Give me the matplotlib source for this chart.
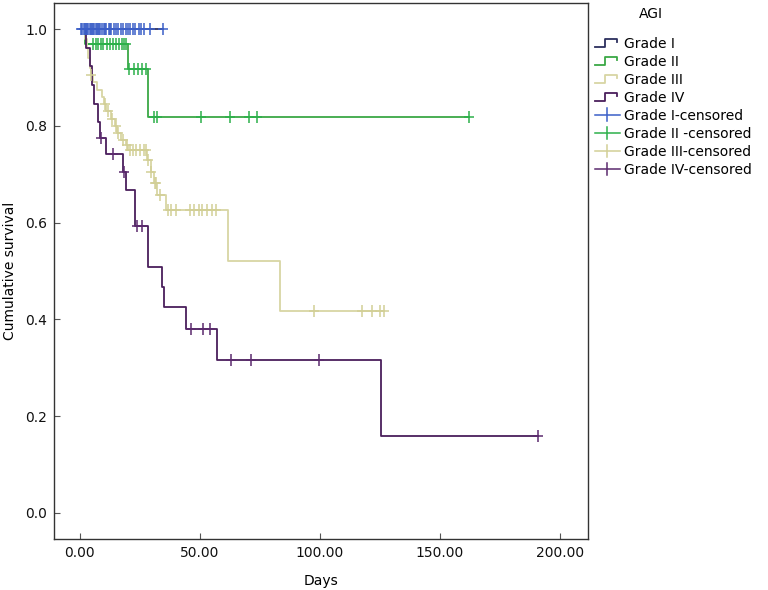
import numpy as np
import matplotlib
matplotlib.use("Agg")
import matplotlib.pyplot as plt
from matplotlib.lines import Line2D
from matplotlib.legend_handler import HandlerBase

# ---------------- data ----------------
groups = ["Grade I", "Grade II", "Grade III", "Grade IV"]

g1_event_t = []
g1_event_s = []
g1_cens_t = [0.5, 1, 1.5, 2, 2.5, 3, 3.5, 4, 4.5, 5, 5.5, 6, 6.5, 7, 7.5, 8, 8.5, 9, 10,
             10.5, 11, 12, 12.5, 13, 14, 15, 16, 17, 18, 19, 20, 21, 22, 23, 24.5,
             25.5, 26.5, 29, 34.6]

g2_event_t = [2, 20, 28.5]
g2_event_s = [0.970, 0.917, 0.819]
g2_cens_t = [5.5, 6.7, 7.6, 8.6, 9.7, 11.1, 12.5, 13.9, 15, 16.4, 17.4, 18.3, 19.4,
             20.5, 22.5, 24, 26, 27.5,
             31, 32, 50.3, 62.5, 70.3, 73.8, 162]

g3_event_t = [2, 3, 3.5, 4, 4.5, 5.5, 7, 9, 10, 11, 13, 14.5, 15.5, 17, 19, 20,
              28, 29.5, 31, 32, 36, 61.5, 83.3]
g3_event_s = [0.980, 0.960, 0.940, 0.920, 0.905, 0.890, 0.875, 0.860, 0.845, 0.830,
              0.815, 0.800, 0.785, 0.770, 0.760, 0.751, 0.729, 0.705, 0.681, 0.657,
              0.626, 0.521, 0.417]
g3_cens_t = [4.8, 10.5, 11.5, 13.5, 15, 16, 18, 19.5, 21, 22.3, 23.5, 25, 26.5, 27.5,
             28.5, 29.8, 31.2, 31.8, 33.5,
             36.5, 38, 40, 46, 47.5, 49.5, 51, 53, 55, 56.5,
             97.5, 117.6, 121.8, 125, 126.5]

g4_event_t = [2.5, 4, 5, 6, 7.5, 8.5, 11, 18, 19, 23, 28.5, 34.4, 35, 44.4, 57.2, 125.4]
g4_event_s = [0.962, 0.923, 0.885, 0.846, 0.808, 0.774, 0.741, 0.705, 0.667, 0.593,
              0.509, 0.467, 0.425, 0.381, 0.317, 0.159]
g4_cens_t = [8.75, 13.9, 18.3, 23.6, 26, 46.3, 51.4, 54.4, 62.8, 71.3, 99.6, 190.7]

x_ticks = [0, 50, 100, 150, 200]
y_ticks = [0.0, 0.2, 0.4, 0.6, 0.8, 1.0]

line_colors = ["#2c2f5e", "#3aa845", "#d8d5a4", "#4a1f5c"]
cens_colors = ["#3b5fc8", "#2cb04a", "#d2cf96", "#5b2a6e"]
cens_labels = ["Grade I-censored", "Grade II -censored", "Grade III-censored",
               "Grade IV-censored"]

data = [
    (g1_event_t, g1_event_s, g1_cens_t),
    (g2_event_t, g2_event_s, g2_cens_t),
    (g3_event_t, g3_event_s, g3_cens_t),
    (g4_event_t, g4_event_s, g4_cens_t),
]

plt.rcParams['font.family'] = ['DejaVu Sans']
fig = plt.figure(figsize=(7.68, 5.90), dpi=100)
ax = fig.add_axes([54 / 768, 1 - 539 / 590, (588 - 54) / 768, (539 - 3) / 590])


def surv_at(t, et, es):
    s = 1.0
    for tt, ss in zip(et, es):
        if tt <= t:
            s = ss
    return s


order = [2, 3, 1, 0]
for i in order:
    et, es, ct = data[i]
    end = max(list(et) + list(ct))
    xs = [0] + list(et) + [end]
    ys = [1.0] + list(es) + [es[-1] if es else 1.0]
    ax.step(xs, ys, where="post", color=line_colors[i], lw=1.3, zorder=2 + i * 0.1)
for i in order:
    et, es, ct = data[i]
    cy = [surv_at(t, et, es) for t in ct]
    ax.plot(ct, cy, linestyle="none", marker="|", ms=9, mew=1.1,
            color=cens_colors[i], zorder=3 + i * 0.1)
    ax.plot(ct, cy, linestyle="none", marker="_", ms=7, mew=1.1,
            color=cens_colors[i], zorder=3 + i * 0.1)

ax.set_xlim(-10.8, 211.7)
ax.set_ylim(-0.054, 1.054)
ax.set_xticks(x_ticks)
ax.set_xticklabels([f"{v:.2f}" for v in x_ticks])
ax.set_yticks(y_ticks)
ax.set_yticklabels([f"{v:.1f}" for v in y_ticks])
ax.tick_params(direction="in", length=4, width=0.8, colors="#555555",
               labelcolor="#111111", labelsize=10, pad=5)
for sp in ax.spines.values():
    sp.set_color("#333333")
    sp.set_linewidth(1.0)
ax.set_xlabel("Days", fontsize=10, labelpad=10)
ax.set_ylabel("Cumulative survival", fontsize=10, labelpad=6)


class StepHandler(HandlerBase):
    def create_artists(self, legend, orig, xd, yd, w, h, fs, trans):
        c = orig.get_color()
        x = np.array([0, 0.42, 0.42, 0.9, 0.9]) * w - xd
        y = np.array([0.05, 0.05, 0.85, 0.85, 0.55]) * h - yd
        ln = Line2D(x, y, color=c, lw=1.3, transform=trans)
        return [ln]


class CensHandler(HandlerBase):
    def create_artists(self, legend, orig, xd, yd, w, h, fs, trans):
        c = orig.get_color()
        ln = Line2D([-xd, w - xd], [h / 2 - yd, h / 2 - yd], color=c, lw=1.1,
                    transform=trans)
        v = Line2D([w / 2 - xd, w / 2 - xd], [-0.15 * h - yd, 1.15 * h - yd], color=c,
                   lw=1.1, transform=trans)
        return [ln, v]


step_h = [Line2D([], [], color=c) for c in line_colors]
cens_h = [Line2D([], [], color=c, marker="+") for c in cens_colors]
hmap = {h: StepHandler() for h in step_h}
hmap.update({h: CensHandler() for h in cens_h})
leg = fig.legend(step_h + cens_h, groups + cens_labels, loc="upper left",
                 bbox_to_anchor=(589 / 768, 1 - 31 / 590), frameon=False,
                 handlelength=1.8, handletextpad=0.35, labelspacing=0.29,
                 fontsize=10, handler_map=hmap, borderaxespad=0)
fig.text(651 / 768, 1 - 14 / 590, "AGI", ha="center", va="center", fontsize=10)

fig.savefig("out.png", dpi=100)
